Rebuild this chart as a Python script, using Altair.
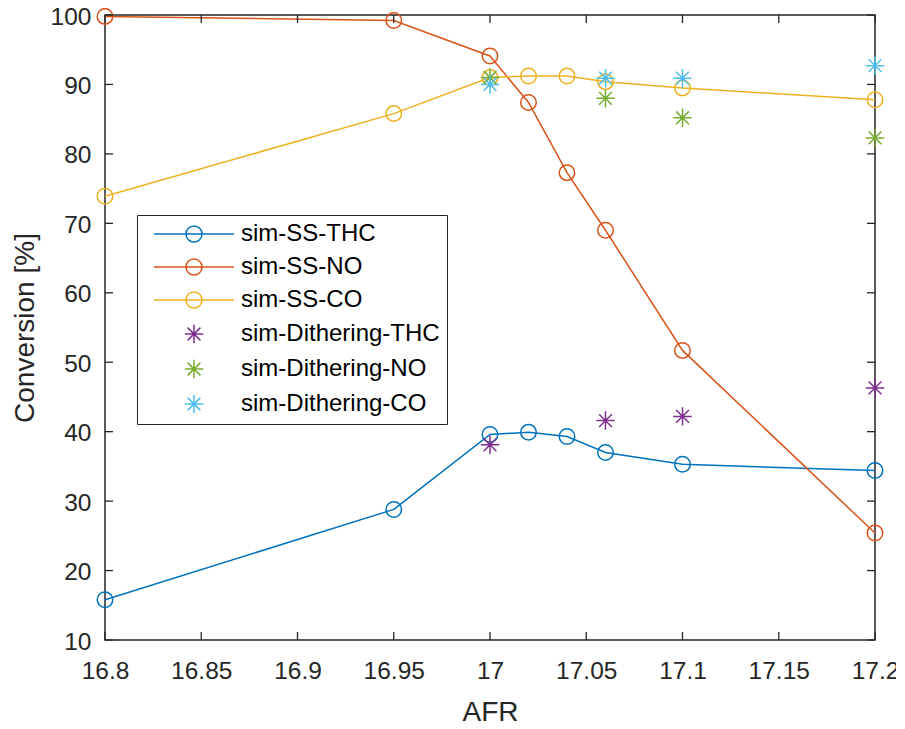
import altair as alt
import pandas as pd

# ---- data ----
afr_ss = [16.8, 16.95, 17.0, 17.02, 17.04, 17.06, 17.1, 17.2]
ss_thc = [15.8, 28.8, 39.6, 39.9, 39.3, 37.0, 35.3, 34.4]
ss_no = [99.8, 99.2, 94.1, 87.4, 77.3, 69.0, 51.7, 25.4]
ss_co = [73.9, 85.8, 91.0, 91.2, 91.2, 90.4, 89.5, 87.8]

afr_dith = [17.0, 17.06, 17.1, 17.2]
dith_thc = [38.1, 41.6, 42.2, 46.3]
dith_no = [91.0, 88.0, 85.2, 82.3]
dith_co = [90.0, 90.9, 90.9, 92.7]

series_names = ["sim-SS-THC", "sim-SS-NO", "sim-SS-CO",
                "sim-Dithering-THC", "sim-Dithering-NO", "sim-Dithering-CO"]
series_colors = ["#0072BD", "#D95319", "#EDB120", "#7E2F8E", "#77AC30", "#4DBEEE"]

x_ticks = [16.8, 16.85, 16.9, 16.95, 17.0, 17.05, 17.1, 17.15, 17.2]
y_ticks = [10, 20, 30, 40, 50, 60, 70, 80, 90, 100]

# ---- tables ----
ss_rows = []
for name, vals in zip(series_names[:3], [ss_thc, ss_no, ss_co]):
    for a, v in zip(afr_ss, vals):
        ss_rows.append({"AFR": a, "value": v, "series": name})
ss_df = pd.DataFrame(ss_rows)

d_rows = []
for name, vals in zip(series_names[3:], [dith_thc, dith_no, dith_co]):
    for a, v in zip(afr_dith, vals):
        d_rows.append({"AFR": a, "value": v, "series": name})
d_df = pd.DataFrame(d_rows)

legend_df = pd.DataFrame({"series": series_names})
xt_df = pd.DataFrame({"xt": x_ticks})
yt_df = pd.DataFrame({"yt": y_ticks})

W, H = 770, 625
FONT = "Liberation Sans"
AX = "#262626"

STAR = "M0,-1.15L0,1.15M-1.15,0L1.15,0M-0.8,-0.8L0.8,0.8M-0.8,0.8L0.8,-0.8"
LINE_CIRCLE = "M-5,0L5,0M-1,0A1,1,0,1,1,1,0A1,1,0,1,1,-1,0"

xs = alt.Scale(domain=[16.8, 17.2], nice=False, zero=False)
ys = alt.Scale(domain=[10, 100], nice=False, zero=False)
stroke_scale = alt.Scale(domain=series_names[::-1], range=series_colors[::-1])

x_axis = alt.Axis(values=x_ticks, title="AFR", grid=False, domain=False, ticks=False,
                  tickSize=0, labelFont=FONT, labelFontSize=24.5, labelColor=AX,
                  labelBaseline="alphabetic", labelPadding=38, labelFlush=False,
                  labelExpr="format(datum.value, '.4~f')",
                  titleFont=FONT, titleFontSize=28, titleFontWeight="normal", titleColor=AX,
                  titleBaseline="alphabetic", titleY=80, titleX=W / 2)
y_axis = alt.Axis(values=y_ticks, title="Conversion [%]", grid=False, domain=False, ticks=False,
                  tickSize=0, labelFont=FONT, labelFontSize=24.5, labelColor=AX,
                  labelPadding=14, labelFlush=False, labelOffset=2,
                  titleFont=FONT, titleFontSize=28, titleFontWeight="normal", titleColor=AX,
                  titleAngle=270, titleBaseline="alphabetic", titleAlign="center",
                  titleX=-72, titleY=H / 2)

lines = alt.Chart(ss_df).mark_line(strokeWidth=1.5).encode(
    x=alt.X("AFR:Q", scale=xs, axis=x_axis),
    y=alt.Y("value:Q", scale=ys, axis=y_axis),
    stroke=alt.Stroke("series:N", scale=stroke_scale, legend=None),
    detail="series:N",
)

circles = alt.Chart(ss_df).mark_point(shape="circle", size=240, strokeWidth=1.5,
                                      filled=False, opacity=1).encode(
    x=alt.X("AFR:Q", scale=xs),
    y=alt.Y("value:Q", scale=ys),
    stroke=alt.Stroke("series:N", scale=stroke_scale, legend=None),
)

stars = alt.Chart(d_df).mark_point(shape=STAR, size=256, strokeWidth=1.5,
                                   filled=False, opacity=1).encode(
    x=alt.X("AFR:Q", scale=xs),
    y=alt.Y("value:Q", scale=ys),
    stroke=alt.Stroke("series:N", scale=stroke_scale, legend=None),
)

legend_layer = alt.Chart(legend_df).mark_point(opacity=0, filled=False).encode(
    x=alt.value(0),
    y=alt.value(0),
    color=alt.Color("series:N", sort=series_names,
                    scale=alt.Scale(domain=series_names, range=series_colors),
                    legend=alt.Legend(title=None, orient="none", legendX=32, legendY=200,
                                      labelFont=FONT, labelFontSize=24, labelColor="#000000",
                                      symbolSize=256, symbolStrokeWidth=1.5, symbolOpacity=1,
                                      symbolFillColor="transparent",
                                      symbolOffset=38, labelOffset=35, rowPadding=9,
                                      padding=7, fillColor="white", strokeColor=AX,
                                      labelLimit=400)),
    shape=alt.Shape("series:N", sort=series_names,
                    scale=alt.Scale(domain=series_names,
                                    range=[LINE_CIRCLE] * 3 + [STAR] * 3)),
)

tick_style = dict(color=AX, strokeWidth=1.3)
xt_bottom = alt.Chart(xt_df).mark_rule(**tick_style).encode(
    x=alt.X("xt:Q", scale=xs), y=alt.value(H), y2=alt.value(H - 8))
xt_top = alt.Chart(xt_df).mark_rule(**tick_style).encode(
    x=alt.X("xt:Q", scale=xs), y=alt.value(0), y2=alt.value(8))
yt_left = alt.Chart(yt_df).mark_rule(**tick_style).encode(
    y=alt.Y("yt:Q", scale=ys), x=alt.value(0), x2=alt.value(8))
yt_right = alt.Chart(yt_df).mark_rule(**tick_style).encode(
    y=alt.Y("yt:Q", scale=ys), x=alt.value(W), x2=alt.value(W - 8))

chart = alt.layer(
    lines, circles, stars, xt_bottom, xt_top, yt_left, yt_right, legend_layer
).properties(
    width=W, height=H,
    autosize=alt.AutoSizeParams(type="none"),
    padding={"left": 97, "top": 7, "right": 21, "bottom": 81},
    background="white",
).configure_view(
    stroke=AX, strokeWidth=1.5,
).configure_legend(
    strokeWidth=1,
)

chart.save("out.html", embed_options={"renderer": "svg", "actions": False})
